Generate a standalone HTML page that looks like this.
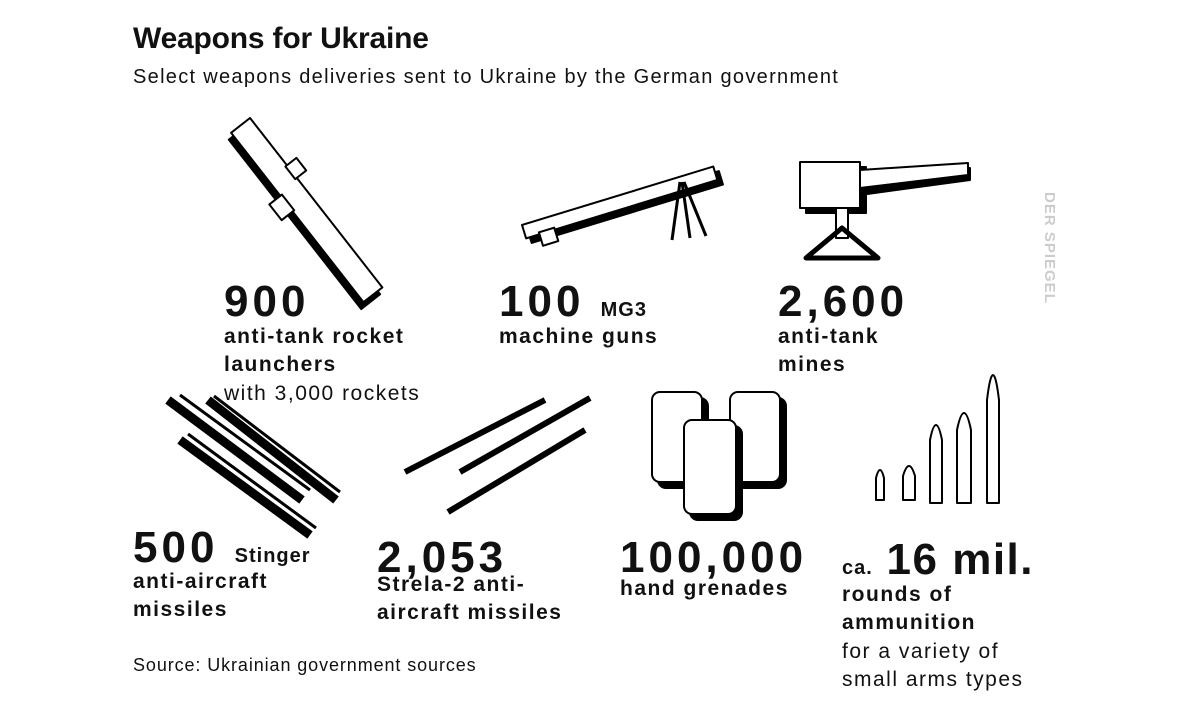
<!DOCTYPE html>
<html><head><meta charset="utf-8"><style>
body{margin:0;width:1201px;height:702px;background:#fff;position:relative;overflow:hidden;font-family:"Liberation Sans",sans-serif;color:#111}
.a{position:absolute;white-space:nowrap}
.big{font-weight:bold;font-size:44px;line-height:44px;letter-spacing:4px}
.big span{letter-spacing:1px}
.lb{font-weight:bold;font-size:21px;line-height:28px;letter-spacing:1.5px}
.rg{font-size:21px;line-height:28px;letter-spacing:1.5px}
svg{position:absolute;left:0;top:0}
</style></head><body>
<div class="a" style="left:133px;top:22px;font-weight:bold;font-size:30px;letter-spacing:-0.2px">Weapons for Ukraine</div>
<div class="a" style="left:133px;top:66px;font-size:20px;letter-spacing:1.3px">Select weapons deliveries sent to Ukraine by the German government</div>

<svg width="1201" height="702" stroke-linejoin="round">
<g stroke="#000" stroke-width="2">
<g transform="translate(250,118) rotate(52)">
<rect x="4" y="6" width="215" height="24" fill="#000"/>
<rect x="0" y="0" width="215" height="24" fill="#fff"/>
<rect x="60" y="-12" width="16" height="14" fill="#fff"/>
<rect x="80" y="22" width="20" height="16" fill="#fff"/>
</g>
<g transform="translate(522,225) rotate(-17)">
<rect x="4" y="6" width="200" height="14" fill="#000"/>
<rect x="0" y="0" width="200" height="14" fill="#fff"/>
<rect x="14" y="12" width="16" height="14" fill="#fff"/>
</g>
<line x1="680" y1="182" x2="672" y2="240" stroke-width="3"/>
<line x1="682" y1="182" x2="690" y2="238" stroke-width="3"/>
<line x1="684" y1="182" x2="706" y2="236" stroke-width="3"/>
<rect x="806" y="167" width="60" height="46" fill="#000"/>
<rect x="800" y="162" width="60" height="46" fill="#fff"/>
<polygon points="860,175 970,168 970,180 860,195" fill="#000"/>
<polygon points="860,170 968,163 968,175 860,188" fill="#fff"/>
<rect x="836" y="208" width="12" height="30" fill="#fff"/>
<polygon points="806,258 842,228 878,258" fill="none" stroke-width="5"/>
<g fill="#fff">
<line x1="168" y1="400" x2="302" y2="500" stroke-width="9"/>
<line x1="180" y1="395" x2="310" y2="490" stroke-width="3"/>
<line x1="208" y1="400" x2="336" y2="500" stroke-width="9"/>
<line x1="214" y1="396" x2="340" y2="492" stroke-width="3"/>
<line x1="180" y1="440" x2="310" y2="535" stroke-width="9"/>
<line x1="188" y1="434" x2="316" y2="528" stroke-width="3"/>
</g>
<line x1="405" y1="472" x2="545" y2="400" stroke-width="6"/>
<line x1="460" y1="472" x2="590" y2="398" stroke-width="6"/>
<line x1="448" y1="512" x2="585" y2="430" stroke-width="6"/>
<rect x="658" y="398" width="50" height="90" rx="8" fill="#000"/>
<rect x="652" y="392" width="50" height="90" rx="8" fill="#fff"/>
<rect x="736" y="398" width="50" height="90" rx="8" fill="#000"/>
<rect x="730" y="392" width="50" height="90" rx="8" fill="#fff"/>
<rect x="690" y="426" width="52" height="94" rx="8" fill="#000"/>
<rect x="684" y="420" width="52" height="94" rx="8" fill="#fff"/>
<g fill="#fff">
<path d="M876 500 V478 Q880 462 884 478 V500Z"/>
<path d="M903 500 V476 Q909 456 915 476 V500Z"/>
<path d="M930 503 V440 Q936 410 942 440 V503Z"/>
<path d="M957 503 V430 Q964 396 971 430 V503Z"/>
<path d="M987 503 V400 Q993 350 999 400 V503Z"/>
</g>
</g>
</svg>

<div class="a big" style="left:224px;top:280px">900</div>
<div class="a lb" style="left:224px;top:323px">anti-tank rocket<br>launchers</div>
<div class="a rg" style="left:224px;top:380px">with 3,000 rockets</div>

<div class="a big" style="left:499px;top:280px">100 <span style="font-size:20px">MG3</span></div>
<div class="a lb" style="left:499px;top:323px">machine guns</div>

<div class="a big" style="left:778px;top:280px">2,600</div>
<div class="a lb" style="left:778px;top:323px">anti-tank<br>mines</div>

<div class="a big" style="left:133px;top:526px">500 <span style="font-size:20px">Stinger</span></div>
<div class="a lb" style="left:133px;top:568px">anti-aircraft<br>missiles</div>

<div class="a big" style="left:377px;top:536px">2,053</div>
<div class="a lb" style="left:377px;top:571px">Strela-2 anti-<br>aircraft missiles</div>

<div class="a big" style="left:620px;top:536px">100,000</div>
<div class="a lb" style="left:620px;top:575px">hand grenades</div>

<div class="a big" style="left:842px;top:538px;letter-spacing:1.5px"><span style="font-size:20px">ca.</span> 16 mil.</div>
<div class="a lb" style="left:842px;top:581px">rounds of<br>ammunition</div>
<div class="a rg" style="left:842px;top:638px">for a variety of<br>small arms types</div>

<div class="a" style="left:133px;top:655px;font-size:18px;letter-spacing:0.9px">Source: Ukrainian government sources</div>
<div class="a" style="transform:rotate(90deg);transform-origin:left top;font-weight:bold;font-size:15px;color:#ccc;letter-spacing:1px;left:1058px;top:192px">DER SPIEGEL</div>
</body></html>
